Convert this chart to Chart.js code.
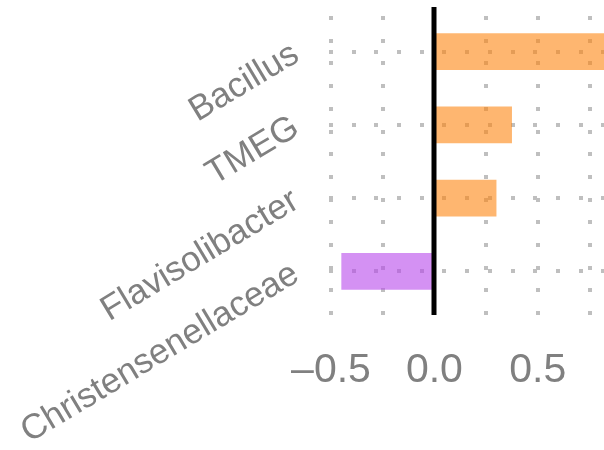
<!DOCTYPE html>
<html><head><meta charset="utf-8">
<script src="https://cdn.jsdelivr.net/npm/chart.js@4/dist/chart.umd.min.js"></script>
<style>html,body{margin:0;padding:0;background:#fff}#wrap{width:604px;height:450px;position:relative}</style>
</head><body><div id="wrap"><canvas id="c" width="604" height="450"></canvas></div>
<script>
const categories = ["Bacillus", "TMEG", "Flavisolibacter", "Christensenellaceae"];
const values = [0.82, 0.375, 0.30, -0.45];
const xTickLabels = { "-0.5": "\u20130.5", "0": "0.0", "0.5": "0.5" };
const posColor = "rgba(254,133,17,0.6)";
const negColor = "rgba(183,72,235,0.6)";

const zeroLine = {
  id: "zeroLine",
  afterDatasetsDraw(chart) {
    const x = chart.scales.x.getPixelForValue(0);
    const a = chart.chartArea, ctx = chart.ctx;
    ctx.save();
    ctx.fillStyle = "#000";
    ctx.fillRect(Math.round(x) - 2.5, a.top - 8, 5, a.bottom - a.top + 15);
    ctx.restore();
  }
};
const hGrid = {
  id: "hGrid",
  beforeDatasetsDraw(chart) {
    const y = chart.scales.y, a = chart.chartArea, ctx = chart.ctx;
    ctx.save();
    ctx.fillStyle = "rgb(191,191,191)";
    categories.forEach((c, i) => {
      const py = Math.round(y.getPixelForValue(i));
      for (let x = a.left; x < a.right + 4; x += 22.7) {
        ctx.fillRect(Math.round(x) - 2, py - 2, 4, 4);
      }
    });
    const xs = chart.scales.x;
    [-0.5, -0.25, 0.25, 0.5, 0.75].forEach(v => {
      const px = Math.round(xs.getPixelForValue(v));
      for (let yy = a.top + 3; yy < a.bottom + 8; yy += 22.7) {
        ctx.fillRect(px - 2, Math.round(yy) - 2, 4, 4);
      }
    });
    ctx.restore();
  }
};

new Chart(document.getElementById("c"), {
  type: "bar",
  data: {
    labels: categories,
    datasets: [{
      data: values,
      backgroundColor: values.map(v => v >= 0 ? posColor : negColor),
      borderWidth: 0,
      categoryPercentage: 1,
      barPercentage: 0.505
    }]
  },
  options: {
    indexAxis: "y",
    responsive: false,
    animation: false,
    layout: { padding: { top: 15, right: 0, bottom: 0, left: 0 } },
    plugins: { legend: { display: false }, tooltip: { enabled: false } },
    scales: {
      x: {
        min: -0.5, max: 0.82,
        grid: { display: false, drawTicks: false },
        border: { display: false },
        afterFit(s) { s.height = 142; s.paddingLeft = 0; s.paddingRight = 0; },
        ticks: {
          stepSize: 0.25,
          autoSkip: false,
          maxRotation: 0,
          padding: 38,
          color: "#808080",
          font: { family: "Liberation Sans", size: 41 },
          callback(v) { const k = String(Math.round(v * 100) / 100); return xTickLabels[k] !== undefined ? xTickLabels[k] : ""; }
        }
      },
      y: {
        grid: { display: false, drawTicks: false },
        border: { display: false },
        afterFit(s) { s.width = 331; s.paddingTop = 0; s.paddingBottom = 0; },
        ticks: {
          minRotation: 31, maxRotation: 31,
          padding: 35,
          color: "#808080",
          font: { family: "Liberation Sans", size: 35 }
        }
      }
    }
  },
  plugins: [hGrid, zeroLine]
});
</script></body></html>
